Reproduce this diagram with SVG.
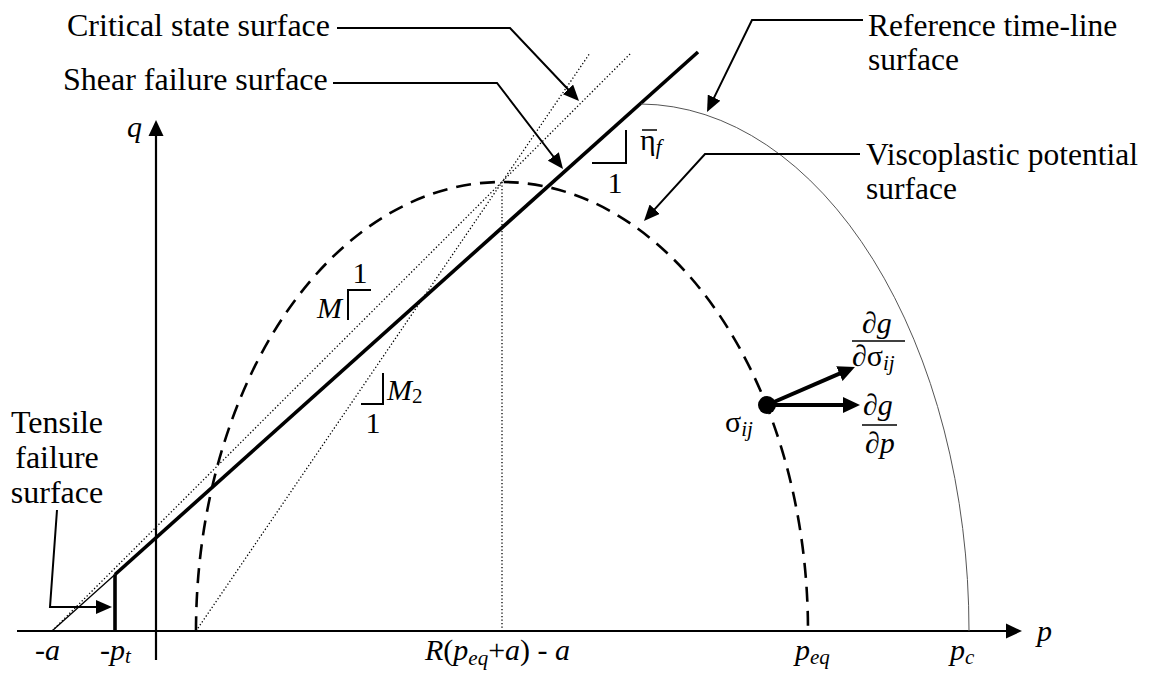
<svg xmlns="http://www.w3.org/2000/svg" width="1153" height="676" viewBox="0 0 1153 676">
<defs>
<style>
text { font-family: "Liberation Serif", "Times New Roman", serif; fill: #000; }
.lbl { font-size: 32px; }
.lbl2 { font-size: 31.5px; }
.m { font-size: 30px; }
.i { font-style: italic; }
.sub { font-size: 21px; }
.ax { stroke: #000; stroke-width: 2.2; fill: none; }
.lead { stroke: #000; stroke-width: 2; fill: none; }
.dot { stroke: #000; stroke-width: 1.3; stroke-dasharray: 1.3 2.2; fill: none; }
.dash { stroke: #000; stroke-width: 2.6; stroke-dasharray: 15 9; fill: none; }
.thin { stroke: #555; stroke-width: 1; fill: none; }
.thick { stroke: #000; stroke-width: 3.6; fill: none; }
.tri { stroke: #000; stroke-width: 2; fill: none; }
.grad { stroke: #000; stroke-width: 4; fill: none; }
.bar { stroke: #000; stroke-width: 1.5; }
</style>
<marker id="ah" viewBox="0 0 16 14" markerWidth="16" markerHeight="14" refX="2" refY="7" orient="auto" markerUnits="userSpaceOnUse"><path d="M0,0 L16,7 L0,14 z" fill="#000"/></marker>
<marker id="ahB" viewBox="0 0 17 16" markerWidth="17" markerHeight="16" refX="2" refY="8" orient="auto" markerUnits="userSpaceOnUse"><path d="M0,0 L17,8 L0,16 z" fill="#000"/></marker>
</defs>
<rect width="1153" height="676" fill="#fff"/>

<g id="axes">
  <path class="ax" d="M17,631 L1008,631"/>
  <path d="M1022,631 L1006,623.5 L1006,638.5 z" fill="#000"/>
  <path class="ax" d="M156,660 L156,134"/>
  <path d="M156,120 L148.5,136 L163.5,136 z" fill="#000"/>
  <text class="m i" x="127" y="137">q</text>
  <text class="m i" x="1037" y="641">p</text>
  <text class="m" x="35" y="660">-<tspan class="i">a</tspan></text>
  <text class="m" x="100" y="660">-<tspan class="i">p</tspan><tspan class="i sub" dy="3">t</tspan></text>
  <text class="m" x="425" y="660"><tspan class="i">R</tspan>(<tspan class="i">p</tspan><tspan class="i sub" dy="5">eq</tspan><tspan dy="-5">+</tspan><tspan class="i">a</tspan>) - <tspan class="i">a</tspan></text>
  <text class="m" x="795" y="660"><tspan class="i">p</tspan><tspan class="i sub" dy="4">eq</tspan></text>
  <text class="m" x="950" y="660"><tspan class="i">p</tspan><tspan class="i sub" dy="4">c</tspan></text>
</g>

<g id="critical-state-surface">
  <path class="dot" d="M52,631 L631,53"/>
  <path class="tri" d="M348,320 L348,290 L371,290"/>
  <text class="m" x="360" y="283" text-anchor="middle">1</text>
  <text class="m i" x="317" y="318">M</text>
</g>

<g id="m2-line">
  <path class="dot" d="M196,631 L590,53"/>
  <path class="tri" d="M361,404 L383,404 L383,373"/>
  <text class="m" x="387" y="400"><tspan class="i">M</tspan><tspan class="sub" dy="3">2</tspan></text>
  <text class="m" x="373" y="433" text-anchor="middle">1</text>
</g>

<g id="apex-line">
  <path class="dot" d="M502,182 L502,631"/>
</g>

<g id="shear-failure-surface">
  <path stroke="#000" stroke-width="1.3" fill="none" d="M52,631 L115,574.5"/>
  <path class="thick" d="M115,574.5 L698,52"/>
  <path class="tri" d="M592,163 L626,163 L626,130"/>
  <text class="m" x="640" y="150">η<tspan class="i sub" dy="4">f</tspan></text>
  <line class="bar" x1="642" y1="130" x2="657" y2="130"/>
  <text class="m" x="615" y="193" text-anchor="middle">1</text>
</g>

<g id="tensile-failure-surface">
  <path class="thick" d="M115,574.5 L115,631"/>
</g>

<g id="viscoplastic-potential-surface">
  <path class="dash" d="M196,631 A306,449 0 0 1 808,631"/>
</g>

<g id="reference-time-line-surface">
  <path class="thin" d="M641,104 A330,527 0 0 1 969,631"/>
</g>

<g id="stress-point">
  <circle cx="767" cy="405" r="9" fill="#000"/>
  <text class="m" x="725" y="432">σ<tspan class="i sub" dy="4">ij</tspan></text>
  <path class="grad" d="M767,405 L845,405" marker-end="url(#ahB)"/>
  <path class="grad" d="M767,405 L841.2,372.9" marker-end="url(#ahB)"/>
  <text class="m" x="863" y="415">∂<tspan class="i">g</tspan></text>
  <line class="bar" x1="862" y1="425" x2="897" y2="425"/>
  <text class="m" x="865" y="453">∂<tspan class="i">p</tspan></text>
  <text class="m" x="862" y="333">∂<tspan class="i">g</tspan></text>
  <line class="bar" x1="852" y1="341" x2="905" y2="341"/>
  <text class="m" x="852" y="366">∂σ<tspan class="i sub" dy="4">ij</tspan></text>
</g>

<g id="labels">
  <text class="lbl" x="67" y="36">Critical state surface</text>
  <text class="lbl" x="63" y="90">Shear failure surface</text>
  <text class="lbl2" x="868" y="36">Reference time-line</text>
  <text class="lbl2" x="868" y="70">surface</text>
  <text class="lbl2" x="866" y="165">Viscoplastic potential</text>
  <text class="lbl2" x="866" y="199">surface</text>
  <text class="lbl" x="57" y="433" text-anchor="middle">Tensile</text>
  <text class="lbl" x="57" y="468" text-anchor="middle">failure</text>
  <text class="lbl" x="57" y="503" text-anchor="middle">surface</text>
</g>

<g id="connectors">
  <path class="lead" d="M337,28 L510,28 L569.4,90.8" marker-end="url(#ah)"/>
  <path class="lead" d="M333,83 L497,83 L554.5,158" marker-end="url(#ah)"/>
  <path class="lead" d="M863,20 L752,20 L713.2,99.4" marker-end="url(#ah)"/>
  <path class="lead" d="M860,154 L705,154 L653.4,210.7" marker-end="url(#ah)"/>
  <path class="lead" d="M57,510 L50,607 L98,607" marker-end="url(#ah)"/>
</g>
</svg>
